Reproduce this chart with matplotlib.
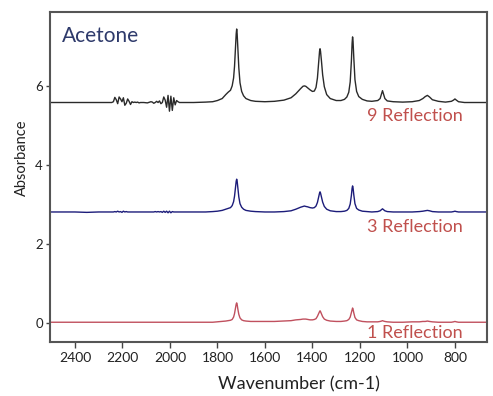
import matplotlib
matplotlib.use("Agg")
import matplotlib.pyplot as plt
import numpy as np

plt.rcParams['font.family'] = ['Lato', 'DejaVu Sans']

# Wavenumber grid (cm-1)
WAVENUMBER = [
    2505, 2450, 2400, 2350, 2300, 2260, 2245,
    2238, 2232, 2226, 2220, 2214, 2208, 2202, 2196, 2190, 2184,
    2178, 2172, 2166, 2160, 2154, 2148, 2142, 2136, 2130, 2124,
    2110, 2095, 2080,
    2074, 2068, 2062, 2056, 2050, 2044, 2038, 2032, 2026, 2020,
    2014, 2008, 2002, 1996, 1990, 1984, 1978, 1972, 1966, 1960,
    1950, 1900, 1850, 1820, 1800,
    1780, 1765, 1755, 1745, 1738,
    1732, 1728, 1724, 1721, 1719,
    1717, 1714, 1710, 1705, 1698,
    1690, 1680, 1660, 1640, 1600,
    1560, 1520, 1490, 1470, 1450,
    1440, 1434, 1428, 1420, 1410,
    1400, 1392, 1385, 1379, 1374,
    1370, 1368, 1366, 1362, 1357,
    1350, 1340, 1325, 1300, 1280,
    1265, 1255, 1247, 1241, 1236,
    1233, 1231, 1229, 1226, 1221,
    1214, 1205, 1190, 1170, 1150,
    1125, 1115, 1109, 1105, 1101,
    1095, 1085, 1060, 1020, 980,
    950, 935, 925, 916, 907,
    895, 870, 840, 815, 806,
    800, 794, 785, 760, 720,
    665,
]

# 9 Reflection (absorbance above its baseline)
ABS_9 = [
    0.0, 0.0, 0.0, 0.0, 0.0, 0.0, 0.0,
    0.02, 0.13, 0.07, -0.03, 0.14, 0.09, 0.02, 0.12, -0.07, -0.02,
    0.09, 0.03, -0.05, 0.02, 0.0, 0.01, 0.0, 0.01, -0.01, 0.0,
    0.0, -0.01, 0.02,
    0.01, -0.02, 0.0, 0.03, 0.0, 0.04, -0.03, 0.0, 0.14, 0.06,
    -0.12, 0.18, -0.22, 0.16, -0.20, 0.12, -0.06, 0.05, 0.02, 0.0,
    0.0, 0.0, 0.01, 0.02, 0.05,
    0.10, 0.20, 0.26, 0.31, 0.42,
    0.62, 0.92, 1.38, 1.74, 1.86,
    1.74, 1.38, 0.88, 0.50, 0.28,
    0.17, 0.10, 0.05, 0.03, 0.02,
    0.03, 0.06, 0.12, 0.22, 0.35,
    0.41, 0.42, 0.41, 0.37, 0.32,
    0.28, 0.29, 0.38, 0.62, 1.00,
    1.30, 1.36, 1.30, 1.05, 0.70,
    0.40, 0.20, 0.10, 0.05, 0.05,
    0.08, 0.14, 0.26, 0.52, 1.05,
    1.50, 1.66, 1.55, 1.15, 0.58,
    0.28, 0.15, 0.08, 0.04, 0.03,
    0.05, 0.10, 0.22, 0.30, 0.22,
    0.10, 0.04, 0.02, 0.01, 0.02,
    0.05, 0.10, 0.15, 0.18, 0.14,
    0.07, 0.03, 0.01, 0.03, 0.06,
    0.09, 0.06, 0.02, 0.0, 0.0,
    0.0,
]

# 3 Reflection
ABS_3 = [
    0.0, 0.0, 0.0, -0.01, 0.0, 0.0, 0.0,
    0.0, 0.01, 0.0, 0.02, 0.0, 0.01, -0.01, 0.02, 0.0, 0.01,
    0.0, 0.0, 0.0, 0.0, 0.0, 0.0, 0.0, 0.0, 0.0, 0.0,
    0.0, 0.0, 0.0,
    0.0, 0.0, 0.01, 0.0, 0.01, 0.0, 0.01, -0.01, 0.02, -0.01,
    0.02, -0.02, 0.02, -0.02, 0.01, 0.0, 0.0, 0.0, 0.0, 0.0,
    0.0, 0.0, 0.0, 0.01, 0.02,
    0.04, 0.07, 0.09, 0.11, 0.16,
    0.26, 0.40, 0.62, 0.78, 0.83,
    0.78, 0.60, 0.38, 0.21, 0.12,
    0.07, 0.04, 0.02, 0.01, 0.0,
    0.0, 0.01, 0.03, 0.07, 0.12,
    0.14, 0.15, 0.14, 0.13, 0.11,
    0.10, 0.11, 0.15, 0.24, 0.38,
    0.48, 0.51, 0.48, 0.38, 0.25,
    0.14, 0.07, 0.03, 0.01, 0.01,
    0.02, 0.04, 0.09, 0.20, 0.42,
    0.60, 0.66, 0.61, 0.44, 0.21,
    0.09, 0.05, 0.02, 0.01, 0.0,
    0.01, 0.03, 0.06, 0.08, 0.06,
    0.03, 0.01, 0.0, 0.0, 0.0,
    0.01, 0.02, 0.03, 0.04, 0.03,
    0.01, 0.0, 0.0, 0.0, 0.01,
    0.02, 0.01, 0.0, 0.0, 0.0,
    0.0,
]

# 1 Reflection
ABS_1 = [
    0.0, 0.0, 0.0, 0.0, 0.0, 0.0, 0.0,
    0.0, 0.0, 0.0, 0.0, 0.0, 0.0, 0.0, 0.0, 0.0, 0.0,
    0.0, 0.0, 0.0, 0.0, 0.0, 0.0, 0.0, 0.0, 0.0, 0.0,
    0.0, 0.0, 0.0,
    0.0, 0.0, 0.0, 0.0, 0.0, 0.0, 0.0, 0.0, 0.0, 0.0,
    0.0, 0.0, 0.0, 0.0, 0.0, 0.0, 0.0, 0.0, 0.0, 0.0,
    0.0, 0.0, 0.0, 0.0, 0.01,
    0.02, 0.03, 0.04, 0.05, 0.07,
    0.13, 0.22, 0.36, 0.46, 0.49,
    0.45, 0.33, 0.20, 0.11, 0.06,
    0.04, 0.03, 0.02, 0.02, 0.02,
    0.02, 0.03, 0.04, 0.06, 0.07,
    0.08, 0.08, 0.08, 0.07, 0.06,
    0.06, 0.07, 0.09, 0.15, 0.22,
    0.27, 0.29, 0.27, 0.21, 0.14,
    0.08, 0.05, 0.03, 0.02, 0.02,
    0.03, 0.04, 0.07, 0.13, 0.25,
    0.33, 0.36, 0.33, 0.24, 0.12,
    0.06, 0.04, 0.02, 0.01, 0.01,
    0.01, 0.02, 0.03, 0.04, 0.03,
    0.02, 0.01, 0.0, 0.0, 0.01,
    0.01, 0.02, 0.02, 0.03, 0.02,
    0.01, 0.0, 0.0, 0.0, 0.01,
    0.02, 0.01, 0.0, 0.0, 0.0,
    0.0,
]

SERIES_LABELS = ["1 Reflection", "3 Reflection", "9 Reflection"]
OFFSETS = [0.02, 2.81, 5.58]
X_TICKS = [2400, 2200, 2000, 1800, 1600, 1400, 1200, 1000, 800]
Y_TICKS = [0, 2, 4, 6]

LINE_COLORS = ["#c0505e", "#1c1c7a", "#2a2a2a"]
TEXT_RED = "#c0504d"

fig = plt.figure(figsize=(4.93, 3.96), dpi=100)
ax = fig.add_axes([50 / 493, 1 - 342 / 396, 437 / 493, 330 / 396])

x = np.array(WAVENUMBER, dtype=float)
for vals, off, col in zip([ABS_1, ABS_3, ABS_9], OFFSETS, LINE_COLORS):
    ax.plot(x, np.array(vals) + off, color=col, lw=1.0)

ax.set_xlim(2505, 665)
ax.set_ylim(-0.48, 7.87)
ax.set_xticks(X_TICKS)
ax.set_yticks(Y_TICKS)
ax.tick_params(axis='x', labelsize=10, length=4, width=1, color="#444444",
               labelcolor="#222222", pad=3)
ax.tick_params(axis='y', labelsize=9.5, length=3, width=1, color="#444444",
               labelcolor="#222222", pad=2)
for s in ax.spines.values():
    s.set_color("#555555")
    s.set_linewidth(1.5)

fig.text(22 / 493, 1 - 158 / 396, "Absorbance", fontsize=10.5, color="#222222",
         rotation=90, ha="center", va="center")
fig.text(299 / 493, 1 - 384 / 396, "Wavenumber (cm-1)", fontsize=13,
         color="#222222", ha="center", va="center")

fig.text(62 / 493, 1 - 36 / 396, "Acetone", fontsize=15,
         color="#2e3a6b", ha="left", va="center")

label_y = [(333, SERIES_LABELS[0]), (227, SERIES_LABELS[1]), (116, SERIES_LABELS[2])]
for py, lab in label_y:
    fig.text(463 / 493, 1 - py / 396, lab, fontsize=13, color=TEXT_RED,
             ha="right", va="center")

fig.savefig("out.png", dpi=100)
